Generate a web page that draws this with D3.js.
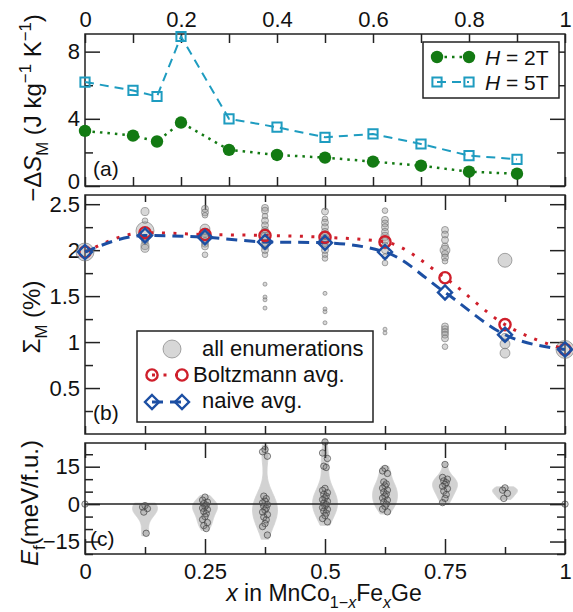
<!DOCTYPE html>
<html>
<head>
<meta charset="utf-8">
<script src="https://cdn.jsdelivr.net/npm/d3@7"></script>
<style>
  body { margin: 0; background: #fff; }
  svg text { font-family: "Liberation Sans", Arial, Helvetica, sans-serif; fill: #111; }
</style>
</head>
<body>
<svg id="fig" width="573" height="612"></svg>
<script>
// ---------- (a) magnetic entropy change vs Fe content ----------
const xEntropy = [0, 0.1, 0.15, 0.2, 0.3, 0.4, 0.5, 0.6, 0.7, 0.8, 0.9];
const dS2T = [3.28, 3.0, 2.65, 3.78, 2.15, 1.85, 1.69, 1.45, 1.21, 0.85, 0.73];
const dS5T = [6.19, 5.69, 5.33, 8.9, 4.0, 3.5, 2.9, 3.1, 2.5, 1.81, 1.59];

// ---------- (b) Sigma_M for each enumerated composition ----------
const xComp = [0, 0.125, 0.25, 0.375, 0.5, 0.625, 0.75, 0.875, 1];
const sigmaBoltzmann = [1.98, 2.19, 2.17, 2.16, 2.14, 2.09, 1.70, 1.19, 0.92];
const sigmaNaive = [1.98, 2.16, 2.14, 2.09, 2.08, 1.98, 1.54, 1.08, 0.92];
const enumSigma = [
  [1.98],
  [2.42, 2.32, 2.21, 2.10, 2.05, 2.02],
  [2.45, 2.41, 2.38, 2.23, 2.19, 2.16, 2.13, 2.10, 2.07, 2.04, 1.95],
  [2.46, 2.43, 2.37, 2.32, 2.27, 2.22, 2.19, 2.15, 2.12, 2.08, 2.04, 2.00, 1.95, 1.63, 1.49, 1.46, 1.37],
  [2.42, 2.34, 2.30, 2.25, 2.20, 2.16, 2.12, 2.08, 2.04, 2.00, 1.95, 1.91, 1.53, 1.36, 1.33, 1.21],
  [2.43, 2.33, 2.29, 2.25, 2.20, 2.15, 2.10, 2.05, 2.00, 1.93, 1.86, 1.14, 1.10],
  [2.22, 2.17, 2.11, 2.04, 2.00, 1.96, 1.92, 1.88, 1.17, 1.14, 1.11, 1.08, 1.04, 0.95],
  [1.89, 1.05, 0.98, 0.88],
  [0.92]
];
const enumWeight = [
  [20],
  [4, 2, 20, 3, 4, 4],
  [3, 3, 2, 6, 5, 4, 4, 3, 3, 3, 2],
  [3, 3, 2, 3, 3, 3, 4, 4, 3, 3, 3, 3, 2, 1, 1, 1, 1],
  [3, 2, 3, 3, 3, 4, 4, 3, 3, 3, 2, 2, 1, 1, 1, 1],
  [2, 3, 3, 3, 3, 4, 3, 3, 3, 2, 2, 1, 1],
  [3, 3, 3, 3, 6, 3, 3, 2, 3, 3, 3, 3, 3, 2],
  [12, 4, 6, 6],
  [20]
];

// ---------- (c) formation energies (meV/f.u.) ----------
const formationEnergy = [
  [0],
  [-0.6, -1.2, -1.8, -3.2, -11.7],
  [2.8, 1.6, 0.8, 0.2, -0.4, -1.0, -1.6, -2.2, -3.0, -3.8, -5.0, -6.2, -7.4, -8.6, -9.8],
  [21.9, 21.0, 19.2, 3.2, 2.2, 1.2, 0.5, -0.2, -0.9, -1.6, -2.4, -3.2, -4.2, -5.2, -6.3, -7.8, -9.0, -12.4],
  [24.9, 20.5, 18.3, 15.2, 14.7, 6.3, 5.5, 4.6, 3.9, 3.2, 2.5, 1.8, 1.1, 0.4, -0.2, -0.8, -1.4, -2.1, -2.8, -3.6, -4.6, -5.8, -7.1],
  [14.3, 13.3, 12.3, 8.9, 8.1, 7.3, 6.4, 5.6, 4.8, 4.0, 3.2, 2.4, 1.6, 0.8, 0.0, -0.9, -2.0, -3.1],
  [15.9, 10.7, 10.0, 9.3, 8.6, 7.9, 7.1, 6.2, 5.2, 3.8, 2.3, 0.6],
  [6.5, 5.6, 4.3, 2.3],
  [0]
];

// ---------- ticks ----------
const tenthTicks = [0, 0.1, 0.2, 0.3, 0.4, 0.5, 0.6, 0.7, 0.8, 0.9, 1];
const tenthLabels = ["0", "", "0.2", "", "0.4", "", "0.6", "", "0.8", "", "1"];
const quarterTicks = [0, 0.25, 0.5, 0.75, 1];
const quarterLabels = ["0", "0.25", "0.5", "0.75", "1"];
const eighthTicks = [0.125, 0.375, 0.625, 0.875];
const allEighthTicks = [0, 0.125, 0.25, 0.375, 0.5, 0.625, 0.75, 0.875, 1];
const dSMajor = [0, 4, 8], dSLabels = ["0", "4", "8"], dSMinor = [2, 6];
const sigMajor = [0.5, 1, 1.5, 2, 2.5], sigLabels = ["0.5", "1", "1.5", "2", "2.5"];
const sigMinor = [0.25, 0.75, 1.25, 1.75, 2.25];
const efMajor = [-15, 0, 15], efLabels = ["\u221215", "0", "15"], efMinor = [-20, -10, -5, 5, 10, 20];

// ---------- colours ----------
const cGreen = "#137a13", cCyan = "#1e9cc0", cRed = "#cf1f2b", cBlue = "#1c4fa3";
const ink = "#222";
const tickFont = 22, titleFont = 24, xTitleFont = 23, legendFont = 22, legendFontA = 21;

const svg = d3.select("#fig");
const X0 = 85, X1 = 565;
const x = d3.scaleLinear().domain([0, 1]).range([X0, X1]);
const yA = d3.scaleLinear().domain([0, 9.05]).range([186, 34]);
const yB = d3.scaleLinear().domain([0, 2.6]).range([434, 195]);
const yC = d3.scaleLinear().domain([-20, 24.5]).range([554, 443]);

function drawAxis(gen, tx, ty, values, size, labels, pad) {
  gen.tickValues(values).tickSize(size).tickPadding(pad || 6)
     .tickFormat(labels ? (d, i) => labels[i] : () => "");
  const g = svg.append("g").attr("transform", `translate(${tx},${ty})`).call(gen);
  g.attr("font-family", null).attr("font-size", null);
  g.select(".domain").remove();
  g.selectAll(".tick line").attr("stroke", ink).attr("stroke-width", 1.5);
  g.selectAll(".tick text").attr("font-size", tickFont).attr("fill", "#111");
  return g;
}

function frame(sc) {
  const [b, t] = sc.range();
  svg.append("rect").attr("x", X0).attr("y", t).attr("width", X1 - X0).attr("height", b - t)
    .attr("fill", "none").attr("stroke", ink).attr("stroke-width", 1.5);
}

// rich text with italic / sub / superscript pieces
function rich(textSel, parts, fs) {
  let cur = 0;
  parts.forEach(p => {
    const target = p.sub ? fs * 0.3 : p.sup ? -fs * 0.42 : 0;
    const ts = textSel.append("tspan").text(p.t);
    if (target !== cur) { ts.attr("dy", target - cur); cur = target; }
    if (p.sub || p.sup) ts.attr("font-size", fs * 0.7);
    if (p.it) ts.attr("font-style", "italic");
  });
}

function square(s) { return `M${-s},${-s}H${s}V${s}H${-s}Z`; }
function diamond(s) { return `M0,${-s}L${s},0L0,${s}L${-s},0Z`; }

// ======================= panel (a) =======================
drawAxis(d3.axisTop(x), 0, yA.range()[1], tenthTicks, -9, tenthLabels, 7);
drawAxis(d3.axisBottom(x), 0, yA.range()[0], tenthTicks, -9, null);
drawAxis(d3.axisLeft(yA), X0, 0, dSMajor, -15, dSLabels, 5)
  .selectAll(".tick text").filter(d => d === 0).attr("dy", "0.12em");
drawAxis(d3.axisLeft(yA), X0, 0, dSMinor, -8, null);
drawAxis(d3.axisRight(yA), X1, 0, dSMajor, -15, null);
drawAxis(d3.axisRight(yA), X1, 0, dSMinor, -8, null);
frame(yA);

const lineA = d3.line().x((d, i) => x(xEntropy[i])).y(d => yA(d));
svg.append("path").datum(dS5T).attr("d", lineA).attr("fill", "none")
  .attr("stroke", cCyan).attr("stroke-width", 2).attr("stroke-dasharray", "9,6");
svg.append("path").datum(dS2T).attr("d", lineA).attr("fill", "none")
  .attr("stroke", cGreen).attr("stroke-width", 2.5).attr("stroke-dasharray", "2.5,5");
svg.selectAll(".m2t").data(dS2T).join("circle")
  .attr("cx", (d, i) => x(xEntropy[i])).attr("cy", d => yA(d)).attr("r", 6.2).attr("fill", cGreen);
svg.selectAll(".m5t").data(dS5T).join("path")
  .attr("transform", (d, i) => `translate(${x(xEntropy[i])},${yA(d)})`)
  .attr("d", square(4.6)).attr("fill", "none").attr("stroke", cCyan).attr("stroke-width", 2);

// legend (a)
svg.append("rect").attr("x", 423).attr("y", 42).attr("width", 136).attr("height", 56)
  .attr("fill", "#fff").attr("stroke", ink).attr("stroke-width", 1.5);
[[57, "2T"], [82, "5T"]].forEach(([ly, lab], k) => {
  const col = k === 0 ? cGreen : cCyan;
  svg.append("line").attr("x1", 437).attr("x2", 469).attr("y1", ly).attr("y2", ly)
    .attr("stroke", col).attr("stroke-width", k === 0 ? 2.5 : 2)
    .attr("stroke-dasharray", k === 0 ? "2.5,5" : "9,6");
  [437, 469].forEach(lx => {
    if (k === 0) svg.append("circle").attr("cx", lx).attr("cy", ly).attr("r", 6.2).attr("fill", col);
    else svg.append("path").attr("transform", `translate(${lx},${ly})`).attr("d", square(4.6))
      .attr("fill", "none").attr("stroke", col).attr("stroke-width", 2);
  });
  const t = svg.append("text").attr("x", 485).attr("y", ly + 7.5).attr("font-size", legendFontA);
  rich(t, [{ t: "H", it: true }, { t: " = " + lab }], legendFontA);
});

svg.append("text").attr("x", 93).attr("y", 176).attr("font-size", legendFontA).text("(a)");

// ======================= panel (b) =======================
drawAxis(d3.axisTop(x), 0, yB.range()[1], quarterTicks, -15, null);
drawAxis(d3.axisTop(x), 0, yB.range()[1], eighthTicks, -7, null);
drawAxis(d3.axisBottom(x), 0, yB.range()[0], allEighthTicks, -8, null);
drawAxis(d3.axisLeft(yB), X0, 0, sigMajor, -15, sigLabels, 5);
drawAxis(d3.axisLeft(yB), X0, 0, sigMinor, -8, null);
drawAxis(d3.axisRight(yB), X1, 0, sigMajor, -15, null);
drawAxis(d3.axisRight(yB), X1, 0, sigMinor, -8, null);
frame(yB);

const rEnum = d3.scaleSqrt().domain([0, 20]).range([0, 9]);
const enumPts = [];
enumSigma.forEach((col, i) => col.forEach((v, j) => enumPts.push({ x: xComp[i], v, w: enumWeight[i][j] })));
svg.append("g").selectAll("circle").data(enumPts).join("circle")
  .attr("cx", d => x(d.x)).attr("cy", d => yB(d.v)).attr("r", d => rEnum(d.w))
  .attr("fill", "#9a9a9a").attr("fill-opacity", 0.4)
  .attr("stroke", "#666").attr("stroke-opacity", 0.55).attr("stroke-width", 1);

const lineB = d3.line().curve(d3.curveMonotoneX).x((d, i) => x(xComp[i])).y(d => yB(d));
svg.append("path").datum(sigmaBoltzmann).attr("d", lineB).attr("fill", "none")
  .attr("stroke", cRed).attr("stroke-width", 3).attr("stroke-dasharray", "3,8.5");
svg.append("path").datum(sigmaNaive).attr("d", lineB).attr("fill", "none")
  .attr("stroke", cBlue).attr("stroke-width", 3).attr("stroke-dasharray", "11,7");
svg.append("g").selectAll("circle").data(sigmaBoltzmann).join("circle")
  .attr("cx", (d, i) => x(xComp[i])).attr("cy", d => yB(d)).attr("r", 5.6)
  .attr("fill", "none").attr("stroke", cRed).attr("stroke-width", 2.4);
svg.append("g").selectAll("path").data(sigmaNaive).join("path")
  .attr("transform", (d, i) => `translate(${x(xComp[i])},${yB(d)})`)
  .attr("d", diamond(7)).attr("fill", "none").attr("stroke", cBlue).attr("stroke-width", 2.4);

// legend (b)
svg.append("rect").attr("x", 137).attr("y", 331).attr("width", 236).attr("height", 91)
  .attr("fill", "#fff").attr("stroke", ink).attr("stroke-width", 1.5);
svg.append("circle").attr("cx", 172).attr("cy", 349).attr("r", 9)
  .attr("fill", "#9a9a9a").attr("fill-opacity", 0.4).attr("stroke", "#666").attr("stroke-opacity", 0.55);
svg.append("text").attr("x", 202).attr("y", 356).attr("font-size", legendFont).text("all enumerations");
svg.append("line").attr("x1", 152).attr("x2", 182).attr("y1", 375).attr("y2", 375)
  .attr("stroke", cRed).attr("stroke-width", 3).attr("stroke-dasharray", "3,8.5");
[152, 182].forEach(lx => svg.append("circle").attr("cx", lx).attr("cy", 375).attr("r", 5.6)
  .attr("fill", "none").attr("stroke", cRed).attr("stroke-width", 2.4));
svg.append("text").attr("x", 193).attr("y", 382).attr("font-size", legendFont).text("Boltzmann avg.");
svg.append("line").attr("x1", 152).attr("x2", 182).attr("y1", 402).attr("y2", 402)
  .attr("stroke", cBlue).attr("stroke-width", 3).attr("stroke-dasharray", "11,7");
[152, 182].forEach(lx => svg.append("path").attr("transform", `translate(${lx},402)`).attr("d", diamond(7))
  .attr("fill", "none").attr("stroke", cBlue).attr("stroke-width", 2.4));
svg.append("text").attr("x", 202).attr("y", 408).attr("font-size", legendFont).text("naive avg.");

svg.append("text").attr("x", 93).attr("y", 420).attr("font-size", legendFontA).text("(b)");

// ======================= panel (c) =======================
// violins: Gaussian KDE (Scott bandwidth) of each composition's energies
function violinProfile(vals) {
  const n = vals.length;
  const bw = d3.deviation(vals) * Math.pow(n, -0.2);
  const lo = d3.min(vals) - 0.3 * bw, hi = d3.max(vals) + 0.3 * bw;
  const grid = d3.range(0, 81).map(k => lo + (hi - lo) * k / 80);
  return grid.map(g => ({
    v: g,
    dens: d3.sum(vals, u => Math.exp(-0.5 * ((g - u) / bw) ** 2)) / (n * bw)
  }));
}
const violinHalfWidth = 12.5;
formationEnergy.forEach((vals, i) => {
  if (vals.length < 3) return;
  const prof = violinProfile(vals);
  const wScale = d3.scaleLinear().domain([0, d3.max(prof, d => d.dens)]).range([0, violinHalfWidth]);
  const cx = x(xComp[i]);
  svg.append("path").datum(prof)
    .attr("d", d3.area().curve(d3.curveBasis).y(d => yC(d.v))
      .x0(d => cx - wScale(d.dens)).x1(d => cx + wScale(d.dens)))
    .attr("fill", "#d2d2d2").attr("stroke", "#d2d2d2").attr("stroke-width", 0.8);
});

drawAxis(d3.axisTop(x), 0, yC.range()[1], quarterTicks, -15, null);
drawAxis(d3.axisTop(x), 0, yC.range()[1], eighthTicks, -7, null);
drawAxis(d3.axisBottom(x), 0, yC.range()[0], quarterTicks, -15, quarterLabels, 9);
drawAxis(d3.axisBottom(x), 0, yC.range()[0], eighthTicks, -7, null);
drawAxis(d3.axisLeft(yC), X0, 0, efMajor, -15, efLabels, 5);
drawAxis(d3.axisLeft(yC), X0, 0, efMinor, -8, null);
drawAxis(d3.axisRight(yC), X1, 0, efMajor, -15, null);
drawAxis(d3.axisRight(yC), X1, 0, efMinor, -8, null);

svg.append("line").attr("x1", X0).attr("x2", X1).attr("y1", yC(0)).attr("y2", yC(0))
  .attr("stroke", ink).attr("stroke-width", 1.5);

const jitter = [0, -2.4, 2.4, -1.2, 1.2];
const efPts = [];
formationEnergy.forEach((col, i) => col.forEach((v, j) => efPts.push({ x: xComp[i], v, j })));
svg.append("g").selectAll("circle").data(efPts).join("circle")
  .attr("cx", d => x(d.x) + jitter[d.j % jitter.length]).attr("cy", d => yC(d.v)).attr("r", 3.2)
  .attr("fill", "#777").attr("fill-opacity", 0.25)
  .attr("stroke", "#444").attr("stroke-opacity", 0.7).attr("stroke-width", 1);
frame(yC);

svg.append("text").attr("x", 90).attr("y", 546).attr("font-size", legendFontA).text("(c)");

// ======================= axis titles =======================
const tA = svg.append("text").attr("transform", "translate(41,108) rotate(-90)")
  .attr("text-anchor", "middle").attr("font-size", titleFont);
rich(tA, [{ t: "\u2212\u0394" }, { t: "S", it: true }, { t: "M", sub: true }, { t: " (J kg" },
  { t: "\u22121", sup: true }, { t: " K" }, { t: "\u22121", sup: true }, { t: ")" }], titleFont);

const tB = svg.append("text").attr("transform", "translate(40,317) rotate(-90)")
  .attr("text-anchor", "middle").attr("font-size", titleFont);
rich(tB, [{ t: "\u03a3" }, { t: "M", sub: true }, { t: " (%)" }], titleFont);

const tC = svg.append("text").attr("transform", "translate(38,503) rotate(-90)")
  .attr("text-anchor", "middle").attr("font-size", titleFont);
rich(tC, [{ t: "E", it: true }, { t: "f", sub: true }, { t: "(meV/f.u.)" }], titleFont);

const tX = svg.append("text").attr("x", 324).attr("y", 601)
  .attr("text-anchor", "middle").attr("font-size", xTitleFont);
rich(tX, [{ t: "x", it: true }, { t: " in MnCo" }, { t: "1\u2212", sub: true }, { t: "x", sub: true, it: true },
  { t: "Fe" }, { t: "x", sub: true, it: true }, { t: "Ge" }], xTitleFont);
</script>
</body>
</html>
